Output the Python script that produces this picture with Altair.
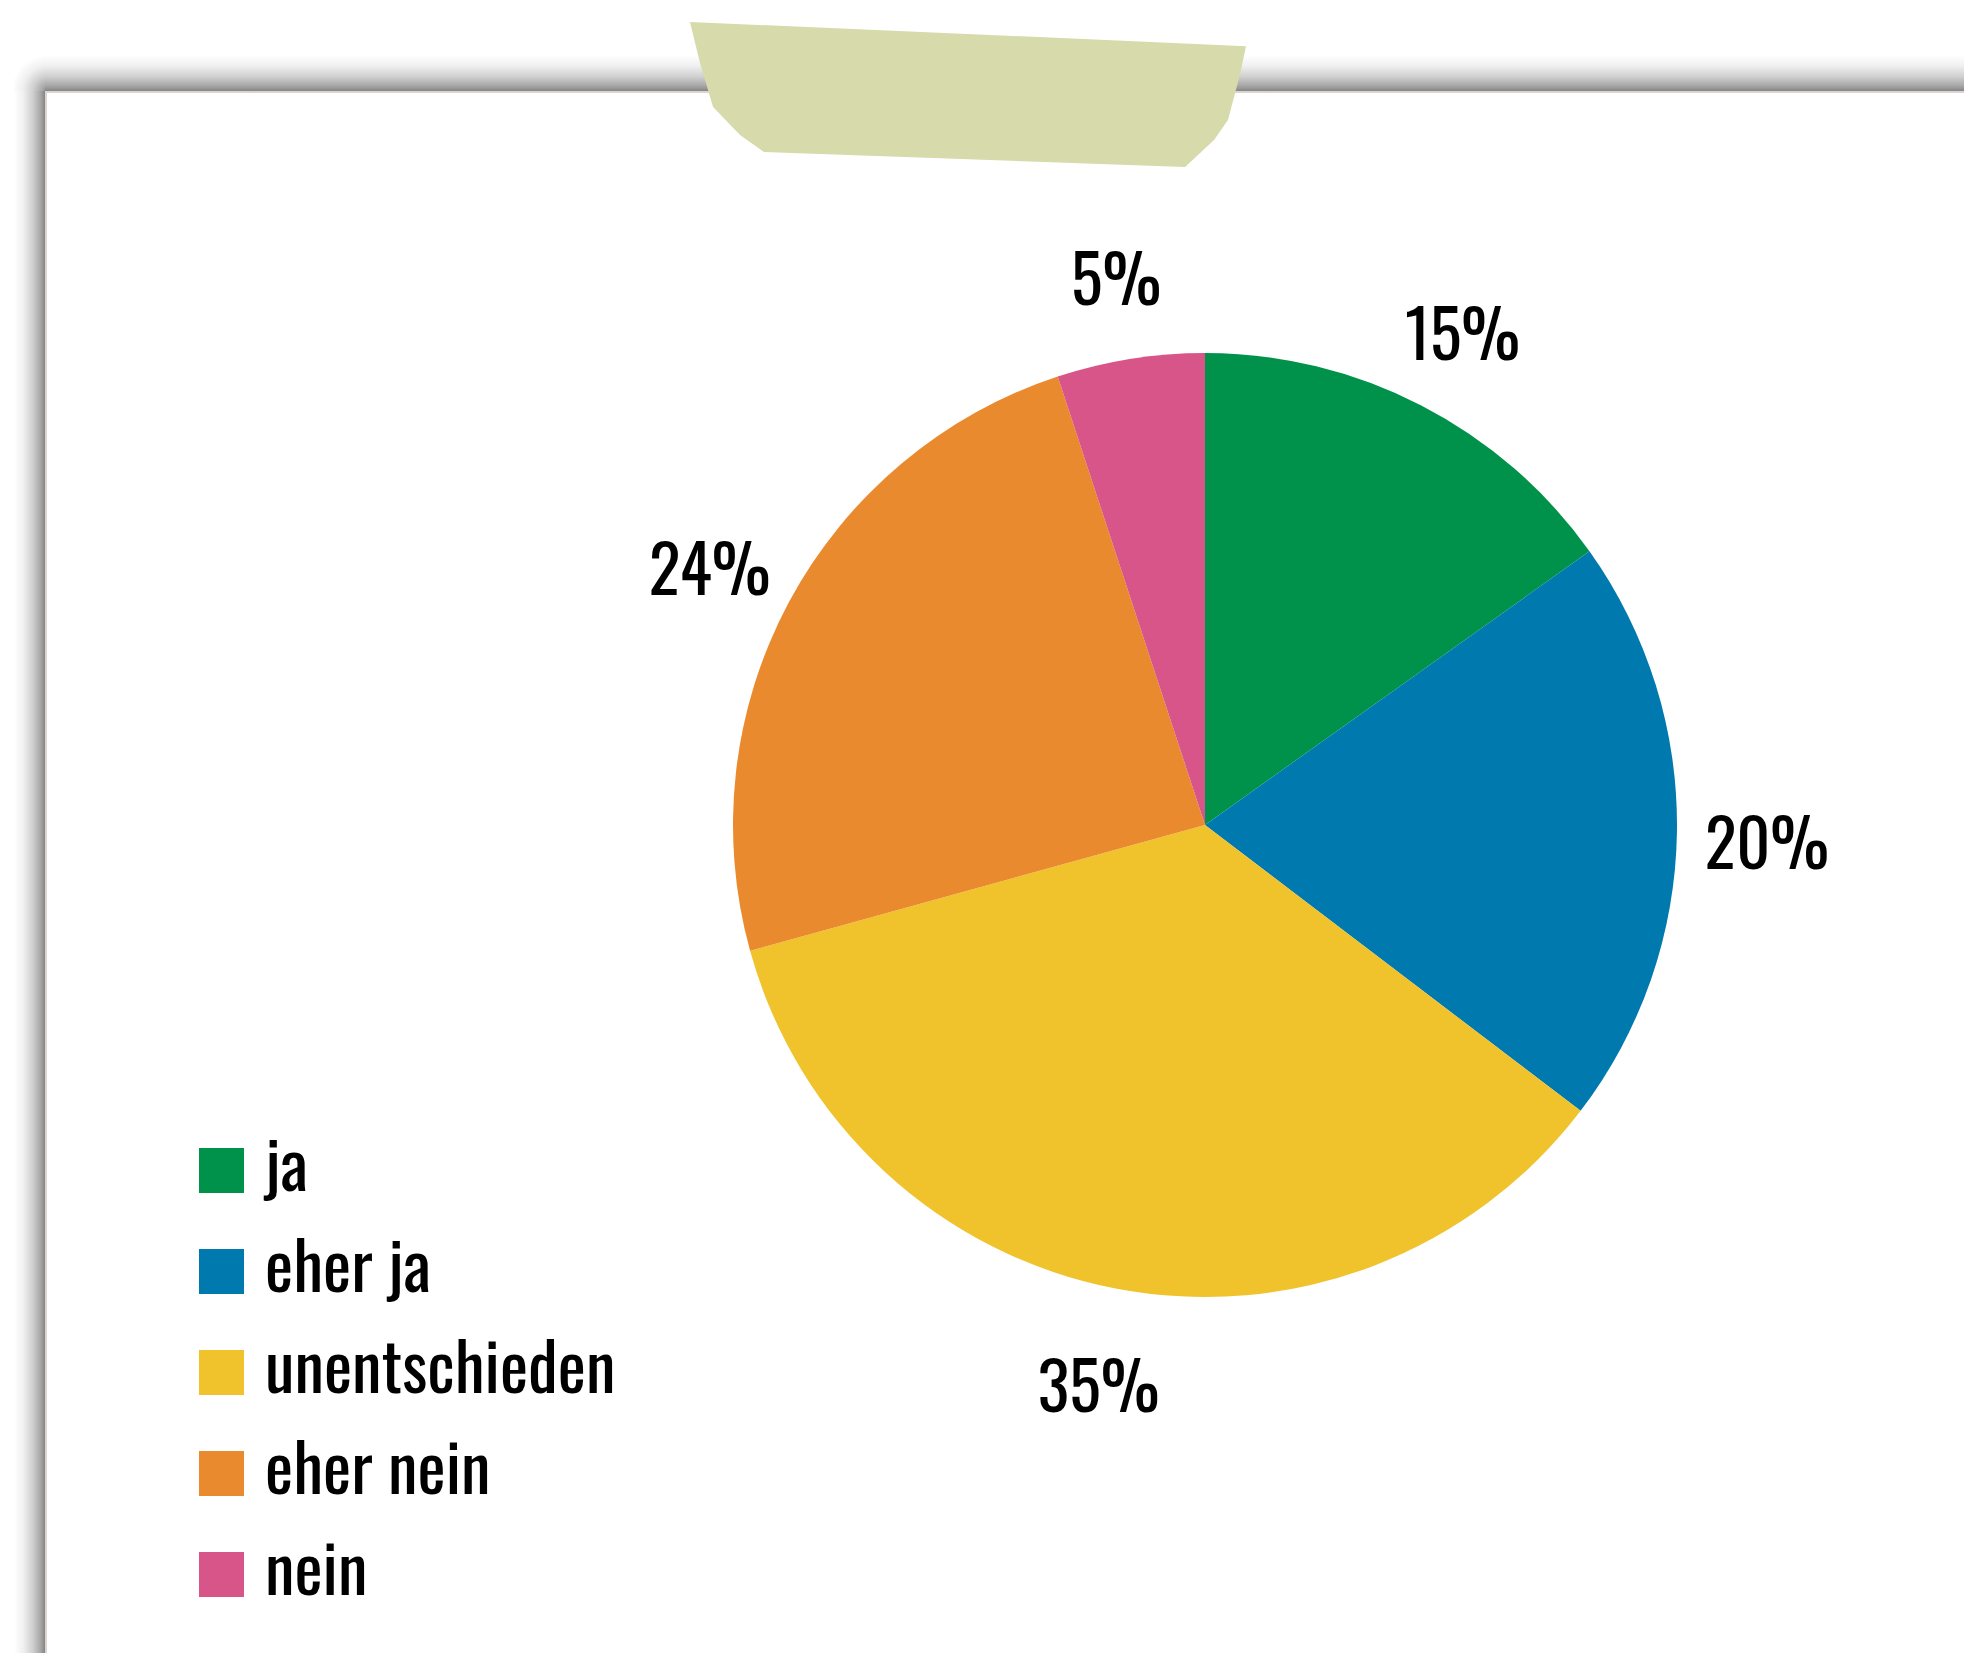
import altair as alt
import pandas as pd

# ---- data ----
categories = ["ja", "eher ja", "unentschieden", "eher nein", "nein"]
values = [15, 20, 35, 24, 5]
labels = ["15%", "20%", "35%", "24%", "5%"]
colors = ["#00924A", "#0079AF", "#F0C22B", "#EA8A2E", "#D75588"]

FONT = "Oswald, Roboto Condensed, sans-serif"
OFF = 8  # page margin
W, H = 1956, 1645

df = pd.DataFrame({"cat": categories, "value": values, "label": labels,
                   "order": list(range(len(categories)))})
dummy = alt.Data(values=[{}])

def sx(v):
    return alt.value(v - OFF)

# ---- paper shadow ----
shade_stops = [
    alt.GradientStop(color="#ffffff", offset=0),
    alt.GradientStop(color="#f0f0f0", offset=0.3),
    alt.GradientStop(color="#d0d0d0", offset=0.6),
    alt.GradientStop(color="#a8a8a8", offset=0.85),
    alt.GradientStop(color="#858585", offset=1),
]
top_shadow = alt.Chart(dummy).mark_rect(
    fill=alt.LinearGradient(gradient="linear", stops=shade_stops, x1=0, x2=0, y1=0, y2=1),
    strokeWidth=0,
).encode(x=sx(45), x2=alt.value(W), y=sx(55), y2=sx(91))

left_shadow = alt.Chart(dummy).mark_rect(
    fill=alt.LinearGradient(gradient="linear", stops=shade_stops, x1=0, x2=1, y1=0, y2=0),
    strokeWidth=0,
).encode(x=sx(14), x2=sx(45), y=sx(91), y2=alt.value(H))

corner_stops = [
    alt.GradientStop(color="#858585", offset=0),
    alt.GradientStop(color="#a8a8a8", offset=0.15),
    alt.GradientStop(color="#d0d0d0", offset=0.4),
    alt.GradientStop(color="#f0f0f0", offset=0.7),
    alt.GradientStop(color="#ffffff", offset=1),
]
corner_shadow = alt.Chart(dummy).mark_rect(
    fill=alt.RadialGradient(gradient="radial", stops=corner_stops,
                            x1=1, y1=1, x2=1, y2=1, r1=0, r2=1),
    strokeWidth=0,
).encode(x=sx(14), x2=sx(45), y=sx(55), y2=sx(91))

edge_top = alt.Chart(dummy).mark_rect(color="#dcd4d0", strokeWidth=0).encode(
    x=sx(45), x2=alt.value(W), y=sx(91), y2=sx(93))
edge_left = alt.Chart(dummy).mark_rect(color="#dcd4d0", strokeWidth=0).encode(
    x=sx(45), x2=sx(47), y=sx(91), y2=alt.value(H))

# ---- tape ----
tape_path = ("M-1,-0.261 L1,-0.174 L0.978,-0.07 L0.935,0.092 L0.885,0.164 "
             "L0.781,0.261 L-0.734,0.207 L-0.82,0.146 L-0.917,0.045 L-0.964,-0.113 Z")
tape = alt.Chart(dummy).mark_point(
    shape=tape_path, size=556 * 556, filled=True, color="#D7DAAA",
    opacity=1, strokeWidth=0,
).encode(x=sx(968), y=sx(94.5))

# ---- pie ----
base = alt.Chart(df).encode(
    theta=alt.Theta("value:Q", stack=True),
    order=alt.Order("order:Q"),
)

pie = base.mark_arc(outerRadius=472, strokeWidth=0).encode(
    x=sx(1205), y=sx(825),
    color=alt.Color(
        "cat:N",
        sort=categories,
        scale=alt.Scale(domain=categories, range=colors),
        legend=alt.Legend(
            orient="none", legendX=180, legendY=1129, title=None,
            symbolType="square", symbolSize=2025, symbolStrokeWidth=0,
            symbolOpacity=1, labelFontSize=67, labelFont=FONT,
            labelFontWeight="normal", labelColor="#000000", labelOffset=10,
            rowPadding=33, padding=0, labelLimit=1000,
        ),
    ),
)

text = base.mark_text(
    radius=562, fontSize=66, font=FONT, fontWeight="normal", color="#000000",
    align="center", baseline="middle", dy=15,
).encode(x=sx(1205), y=sx(825), text="label:N")

chart = alt.layer(
    top_shadow, left_shadow, corner_shadow, edge_top, edge_left, tape, pie, text
).properties(
    width=W, height=H, padding=0, autosize=alt.AutoSizeParams(type="none"),
    background="#ffffff",
).configure_view(stroke=None)

chart.save("out.html", embed_options={"renderer": "svg", "actions": False})
